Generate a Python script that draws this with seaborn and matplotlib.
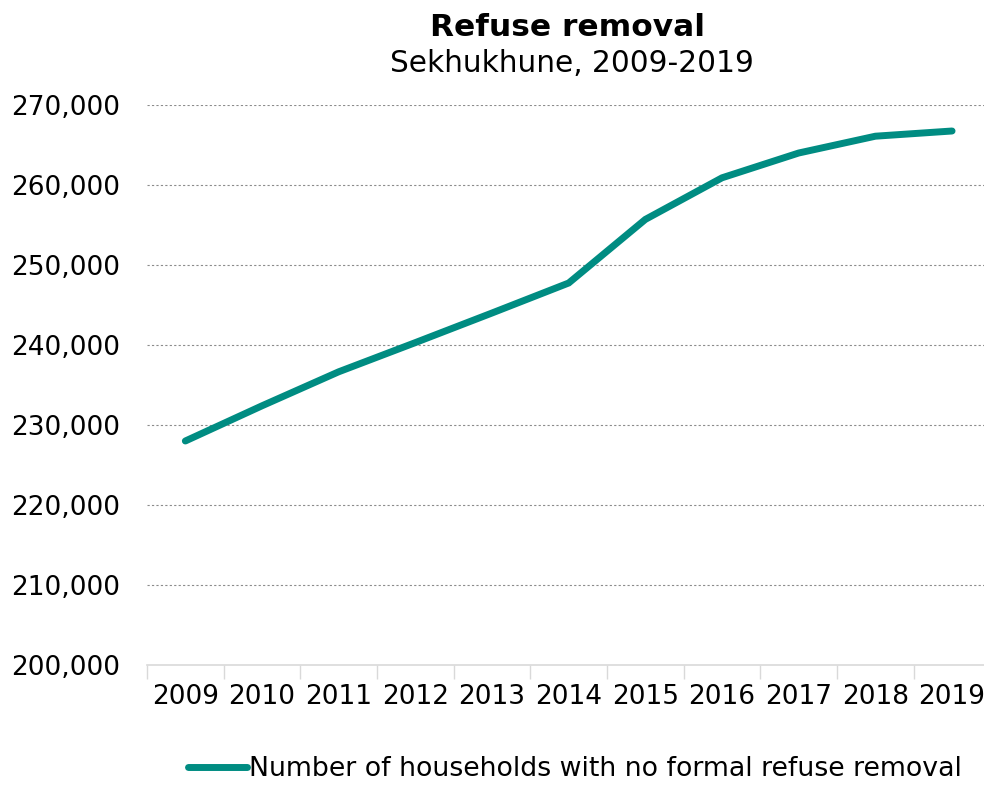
import matplotlib.pyplot as plt
import seaborn as sns
import pandas as pd
from matplotlib.ticker import FuncFormatter, MultipleLocator

years = [2009, 2010, 2011, 2012, 2013, 2014, 2015, 2016, 2017, 2018, 2019]
households = [228000, 232400, 236650, 240300, 244000, 247750, 255700, 260900, 264000, 266100, 266750]
series_name = 'Number of households with no formal refuse removal'

df = pd.DataFrame({'Year': years, 'Households': households})

sns.set_style('white')
plt.rcParams['font.family'] = ['DejaVu Sans']
plt.rcParams['text.color'] = 'black'

fig = plt.figure(figsize=(9.84, 7.85), dpi=100)
ax = fig.add_axes([147 / 984, 120 / 785, 843.4 / 984, 560 / 785])

sns.lineplot(data=df, x='Year', y='Households', ax=ax, color='#008C82',
             linewidth=5, solid_capstyle='round', solid_joinstyle='miter',
             label=series_name, legend=False)

ax.set_xlim(2008.5, 2019.5)
ax.set_ylim(200000, 270000)
ax.set_xticks(years)
ax.set_xticklabels([str(y) for y in years])
ax.xaxis.set_minor_locator(MultipleLocator(1, offset=0.5))
ax.yaxis.set_major_formatter(FuncFormatter(lambda v, p: f'{int(v):,}'))
ax.set_yticks(range(200000, 270001, 10000))

ax.tick_params(axis='both', which='major', length=0, labelsize=19, colors='black')
ax.tick_params(axis='x', which='major', pad=14)
ax.tick_params(axis='y', which='major', pad=19)
ax.tick_params(axis='x', which='minor', length=10, width=1, color='#d9d9d9', direction='out', bottom=True)

for y in range(210000, 270001, 10000):
    ax.axhline(y, color='#8c8c8c', linestyle=(0, (2, 2)), linewidth=0.8, zorder=0)

for s in ['top', 'right', 'left']:
    ax.spines[s].set_visible(False)
ax.spines['bottom'].set_color('#d9d9d9')
ax.spines['bottom'].set_linewidth(1.2)

ax.set_xlabel('')
ax.set_ylabel('')

fig.text(568 / 984, 1 - 27 / 785, 'Refuse removal', ha='center', va='center',
         fontsize=22.5, fontweight='bold', color='black')
fig.text(572 / 984, 1 - 64 / 785, 'Sekhukhune, 2009-2019', ha='center', va='center',
         fontsize=21.3, color='black')

handles, labels = ax.get_legend_handles_labels()
leg = fig.legend(handles, labels, loc='center', bbox_to_anchor=(575 / 984, 16 / 785),
                 frameon=False, fontsize=19.3, handlelength=2.2, handletextpad=0.05,
                 borderpad=0, borderaxespad=0)
for t in leg.get_texts():
    t.set_color('black')

fig.savefig('out.png', dpi=100)
